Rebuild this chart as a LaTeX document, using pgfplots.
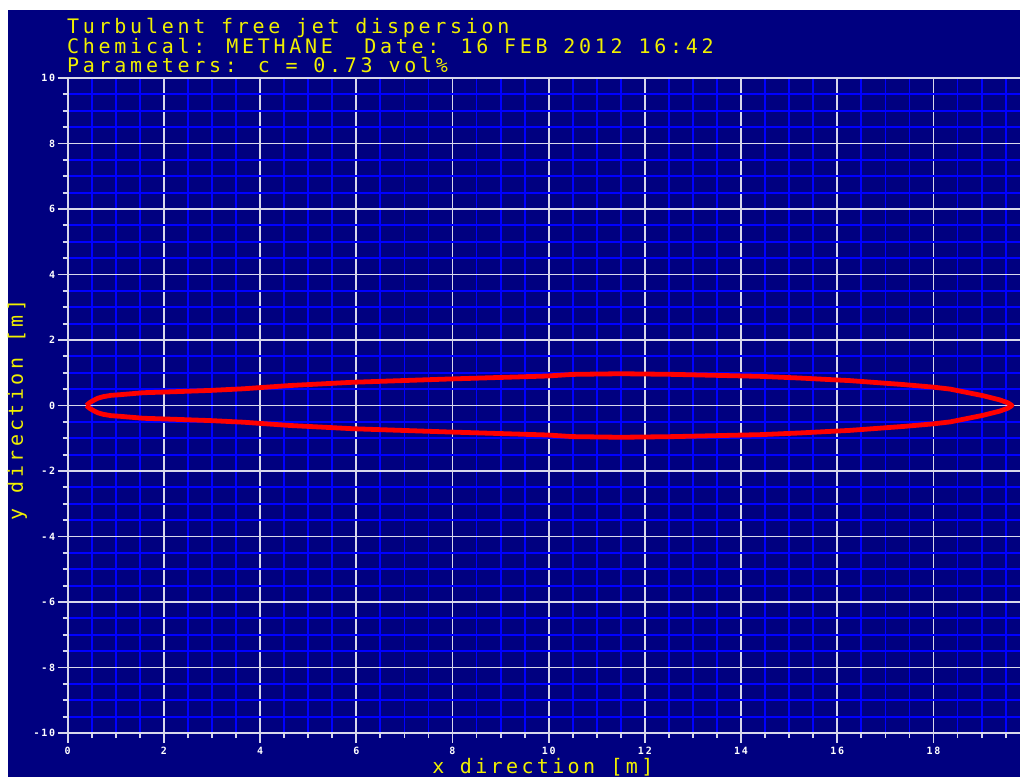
\documentclass[border=0pt]{standalone}
\usepackage{pgfplots}
\pgfplotsset{compat=1.18}
\usepackage{fontspec}
\newfontfamily\termfont[LetterSpace=18.6]{DejaVu Sans Mono}
\newfontfamily\labfont[LetterSpace=16.8]{DejaVu Sans Mono}
\newfontfamily\ticfont[LetterSpace=18]{DejaVu Sans Mono}
\newcommand\termsize{\termfont\fontsize{20}{20}\selectfont}
\newcommand\labsize{\labfont\fontsize{20}{20}\selectfont}
\definecolor{bgblue}{RGB}{0,0,128}
\definecolor{minorblue}{RGB}{0,0,255}
\definecolor{majorgrid}{RGB}{215,215,235}
\definecolor{termyellow}{RGB}{240,240,0}
\definecolor{plume}{RGB}{255,0,0}
\begin{document}
\begin{tikzpicture}
\useasboundingbox (-67.7pt,-44pt) rectangle (952.3pt,733pt);
\fill[white] (-67.7pt,-44pt) rectangle (952.3pt,733pt);
\fill[bgblue] (-59.7pt,-44pt) rectangle (952.3pt,723pt);
\clip (-67.7pt,-44pt) rectangle (952.3pt,733pt);
\begin{axis}[
  at={(0pt,0pt)}, anchor=south west,
  scale only axis, width=962pt, height=655pt,
  xmin=0, xmax=20, ymin=-10, ymax=10,
  xtick={0,2,...,20}, ytick={-10,-8,...,10},
  xticklabels={0,2,4,6,8,10,12,14,16,18,20},
  yticklabels={-10,-8,-6,-4,-2,0,2,4,6,8,10},
  minor x tick num=3, minor y tick num=3,
  grid=both,
  minor grid style={minorblue, line width=1.8pt},
  major grid style={majorgrid, line width=1.8pt},
  axis lines=left,
  axis line style={-, majorgrid, line width=1.8pt},
  tick align=outside,
  major tick length=10pt, minor tick length=5pt,
  every tick/.style={majorgrid, line width=1.8pt},
  tick label style={white, font=\ticfont\bfseries\fontsize{10}{10}\selectfont},
  xticklabel style={yshift=-1pt},
  yticklabel style={xshift=1pt},
  xlabel={x direction [m]},
  ylabel={y direction [m]},
  every axis x label/.style={at={(axis description cs:0.494,-0.0611)}, anchor=base, termyellow, font=\labsize},
  every axis y label/.style={at={(axis description cs:-0.0465,0.493)}, anchor=base, rotate=90, termyellow, font=\labsize},
  clip=false,
]
\addplot[plume, line width=4.8pt, line join=round] coordinates {
(0.39,0) (0.45,0.08) (0.53,0.15) (0.62,0.22) (0.74,0.27) (0.9,0.31) (1.09,0.33) (1.57,0.39) (2.0,0.41)
(2.96,0.46) (3.65,0.51) (4.62,0.61) (5.94,0.71) (7.95,0.81) (9.96,0.9) (10.5,0.95)
(11.5,0.97) (12.6,0.95) (13.5,0.92) (14.4,0.89) (15.2,0.84) (16.26,0.76) (17.37,0.64)
(18.0,0.56) (18.35,0.5) (19.03,0.3) (19.38,0.17) (19.55,0.08) (19.63,0)
(19.55,-0.08) (19.38,-0.17) (19.03,-0.3) (18.35,-0.5) (18.0,-0.56) (17.37,-0.64)
(16.26,-0.76) (15.2,-0.84) (14.4,-0.89) (13.5,-0.92) (12.6,-0.95) (11.5,-0.97)
(10.5,-0.95) (9.96,-0.9) (7.95,-0.81) (5.94,-0.71) (4.62,-0.61) (3.65,-0.51)
(2.96,-0.46) (2.0,-0.41) (1.57,-0.39) (1.09,-0.33) (0.9,-0.31) (0.74,-0.27)
(0.62,-0.22) (0.53,-0.15) (0.45,-0.08) (0.39,0)
};
\end{axis}
\begin{scope}[every node/.style={anchor=base west, inner sep=0pt, termyellow, font=\termsize}]
\node at (-0.7pt,699pt) {Turbulent free jet dispersion};
\node at (-0.7pt,679pt) {Chemical: METHANE\ \ Date: 16 FEB 2012 16:42};
\node at (-0.7pt,660pt) {Parameters: c = 0.73 vol\%};
\end{scope}
\end{tikzpicture}
\end{document}
